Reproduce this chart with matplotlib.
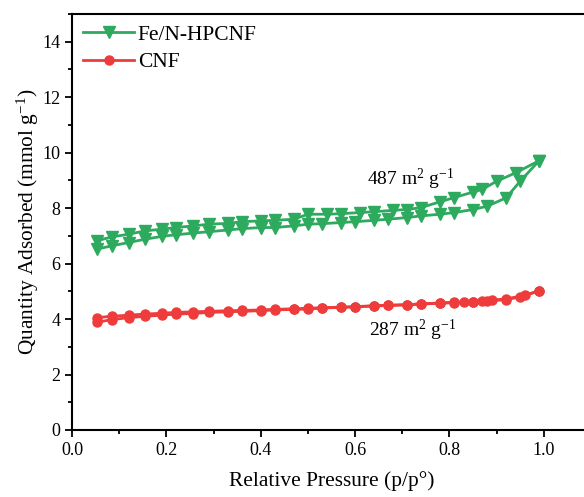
import numpy as np
import matplotlib
matplotlib.use("Agg")
import matplotlib.pyplot as plt
from matplotlib.ticker import MultipleLocator

plt.rcParams['font.family'] = ['Liberation Serif', 'DejaVu Serif']
plt.rcParams['mathtext.fontset'] = 'custom'
plt.rcParams['mathtext.rm'] = 'Liberation Serif'
plt.rcParams['mathtext.it'] = 'Liberation Serif:italic'

# Fe/N-HPCNF isotherm (adsorption = lower branch, desorption = upper branch)
p_fe = [0.052, 0.084, 0.12, 0.155, 0.19, 0.22, 0.257, 0.29, 0.33, 0.36, 0.40, 0.43, 0.47, 0.50,
        0.53, 0.57, 0.60, 0.64, 0.67, 0.71, 0.74, 0.78, 0.81, 0.85, 0.88, 0.92, 0.95, 0.99]
fe_ads = [6.52, 6.64, 6.76, 6.88, 6.98, 7.04, 7.10, 7.15, 7.21, 7.26, 7.30, 7.30, 7.36, 7.42,
          7.44, 7.48, 7.51, 7.56, 7.60, 7.66, 7.72, 7.78, 7.84, 7.95, 8.07, 8.37, 8.97, 9.71]
p_fe_des = [0.052, 0.084, 0.12, 0.155, 0.19, 0.22, 0.257, 0.29, 0.33, 0.36, 0.40, 0.43, 0.47, 0.50,
            0.54, 0.57, 0.61, 0.64, 0.68, 0.71, 0.74, 0.78, 0.81, 0.85, 0.87, 0.90, 0.94, 0.99]
fe_des = [6.82, 6.96, 7.06, 7.18, 7.24, 7.30, 7.36, 7.42, 7.45, 7.51, 7.54, 7.56, 7.60, 7.78,
          7.78, 7.80, 7.84, 7.87, 7.92, 7.95, 8.02, 8.23, 8.38, 8.58, 8.68, 8.97, 9.27, 9.71]

# CNF isotherm
p_cnf = [0.052, 0.084, 0.12, 0.155, 0.19, 0.22, 0.257, 0.29, 0.33, 0.36, 0.40, 0.43, 0.47, 0.50,
         0.53, 0.57, 0.60, 0.64, 0.67, 0.71, 0.74, 0.78, 0.81, 0.85, 0.88, 0.92, 0.95, 0.99]
cnf_ads = [3.88, 3.98, 4.05, 4.10, 4.14, 4.18, 4.20, 4.24, 4.26, 4.28, 4.30, 4.33, 4.35, 4.36,
           4.40, 4.42, 4.44, 4.47, 4.49, 4.51, 4.54, 4.57, 4.59, 4.62, 4.65, 4.70, 4.80, 5.02]
p_cnf_des = [0.052, 0.084, 0.12, 0.155, 0.19, 0.22, 0.257, 0.29, 0.33, 0.36, 0.40, 0.43, 0.47, 0.50,
             0.53, 0.57, 0.60, 0.64, 0.67, 0.71, 0.74, 0.78, 0.81, 0.83, 0.85, 0.87, 0.89, 0.92, 0.96, 0.99]
cnf_des = [4.05, 4.10, 4.14, 4.18, 4.21, 4.24, 4.26, 4.28, 4.30, 4.31, 4.33, 4.35, 4.37, 4.39,
           4.41, 4.43, 4.45, 4.48, 4.50, 4.52, 4.55, 4.58, 4.61, 4.62, 4.63, 4.66, 4.68, 4.73, 4.85, 5.02]

green = '#2EAA5E'
red = '#EE3B3B'

fig = plt.figure(figsize=(5.84, 4.97), dpi=100)
ax = fig.add_axes([72/584, 67/497, 519/584, 416/497])

ax.plot(p_fe, fe_ads, color=green, marker='v', markersize=8.5, lw=2, label='Fe/N-HPCNF')
ax.plot(p_fe_des, fe_des, color=green, marker='v', markersize=8.5, lw=2)
ax.plot(p_cnf, cnf_ads, color=red, marker='o', markersize=6.5, lw=2, label='CNF')
ax.plot(p_cnf_des, cnf_des, color=red, marker='o', markersize=6.5, lw=2)

ax.text(0.625, 9.05, r'487 m$^{2}$ g$^{\mathrm{-1}}$', fontsize=14, va='center')
ax.text(0.63, 3.6, r'287 m$^{2}$ g$^{\mathrm{-1}}$', fontsize=14, va='center')

ax.set_xlim(0, 1.1)
ax.set_ylim(0, 15)
ax.xaxis.set_major_locator(MultipleLocator(0.2))
ax.xaxis.set_minor_locator(MultipleLocator(0.1))
ax.yaxis.set_major_locator(MultipleLocator(2))
ax.yaxis.set_minor_locator(MultipleLocator(1))
ax.set_xticks([0, 0.2, 0.4, 0.6, 0.8, 1.0])
ax.set_xticklabels(['0.0', '0.2', '0.4', '0.6', '0.8', '1.0'])
ax.tick_params(which='major', direction='out', length=5, width=1.3, labelsize=13)
ax.tick_params(which='minor', direction='out', length=3, width=1.3)
ax.tick_params(top=False, right=False)
for s in ax.spines.values():
    s.set_linewidth(1.5)

ax.set_xlabel('Relative Pressure (p/p°)', fontsize=15.4, labelpad=9)
ax.set_ylabel(r'Quantity Adsorbed (mmol g$^{\mathrm{-1}}$)', fontsize=15.4, labelpad=1)

ax.legend(loc='upper left', fontsize=15.5, frameon=False, handlelength=2.4,
          handletextpad=0.15, borderaxespad=0.1, labelspacing=0.35)

fig.savefig('out.png', dpi=100)
